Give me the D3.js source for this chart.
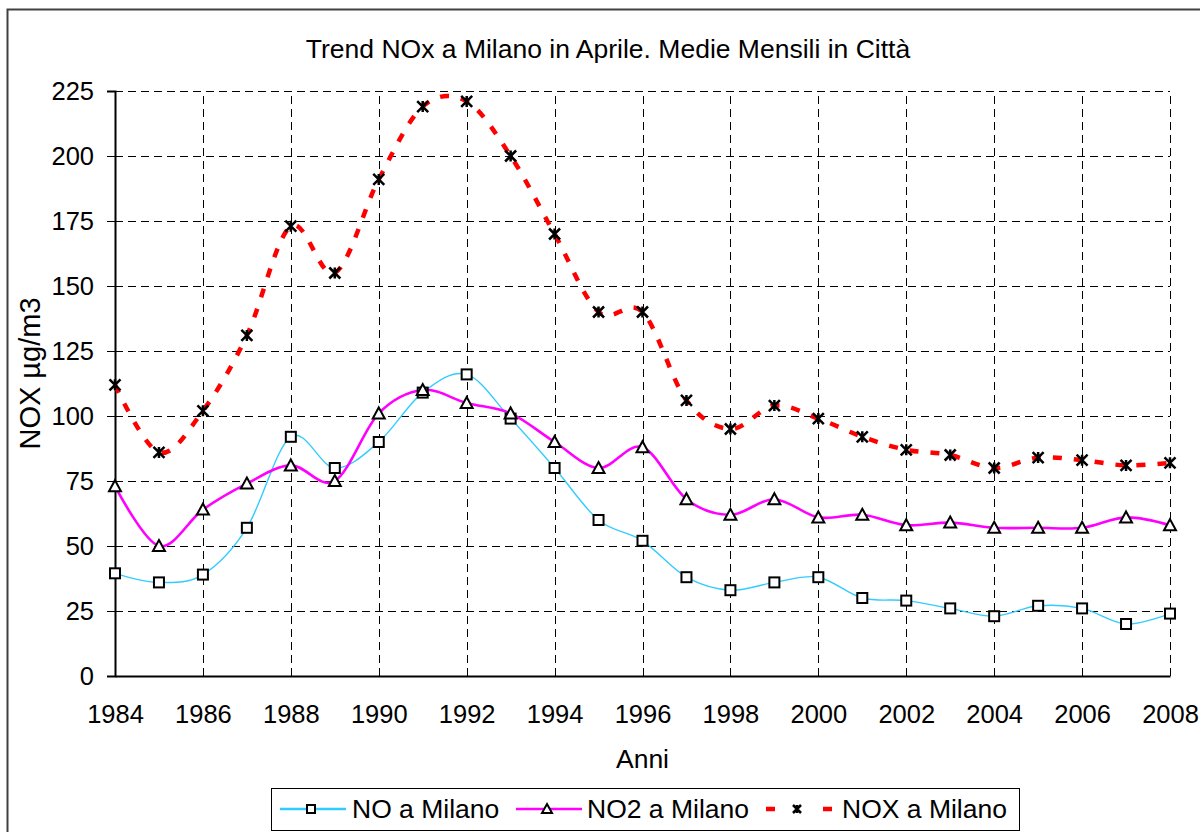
<!DOCTYPE html>
<html lang="it">
<head>
  <meta charset="UTF-8">
  <title>Trend NOx a Milano</title>
  <script src="https://d3js.org/d3.v7.min.js"></script>
  <style>
    body { margin:0; background:#fff; overflow:hidden; }
    svg { display:block; }
    text { font-family: "Liberation Sans", Arial, sans-serif; fill:#000; }
  </style>
</head>
<body>
  <script>
    // data
    const years = d3.range(1984, 2009);
    const noValues = [39.5,36,39,57,92,80,90,109,116,99,80,60,52,38,33,36,38,30,29,26,23,27,26,20,24];
    const no2Values = [73,50,64,74,81,75,101,110,105,101,90,80,88,68,62,68,61,62,58,59,57,57,57,61,58];
    const noxValues = [112,86,102,131,173,155,191,219,221,200,170,140,140,106,95,104,99,92,87,85,80,84,83,81,82];
    const yTicks = [0,25,50,75,100,125,150,175,200,225];
    const xTicks = d3.range(1984, 2009, 2);

    const width = 1200, height = 832;
    const margin = {left:115, right:30, top:91, bottom:156};

    const svg = d3.select("body").append("svg")
      .attr("width", width).attr("height", height);

    // outer frame
    svg.append("rect")
      .attr("x", 7.5).attr("y", 9.5).attr("width", 1200).attr("height", 830)
      .attr("fill", "none").attr("stroke", "#404040").attr("stroke-width", 2);

    const x = d3.scaleLinear().domain([1984, 2008]).range([margin.left, width - margin.right]);
    const y = d3.scaleLinear().domain([0, 225]).range([height - margin.bottom, margin.top]);

    const plotW = x(2008) - x(1984), plotH = y(0) - y(225);

    svg.append("defs").append("clipPath").attr("id", "clip")
      .append("rect").attr("x", x(1984) - 10).attr("y", y(225) - 2)
      .attr("width", plotW + 20).attr("height", plotH + 4);

    // grid
    const grid = svg.append("g").attr("stroke", "#000").attr("stroke-width", 1)
      .attr("stroke-dasharray", "8,5").attr("shape-rendering", "crispEdges");
    grid.selectAll(".hg").data(yTicks.slice(1)).enter().append("line")
      .attr("x1", x(1984)).attr("x2", x(2008))
      .attr("y1", d => Math.round(y(d)) + 0.5).attr("y2", d => Math.round(y(d)) + 0.5);
    grid.selectAll(".vg").data(xTicks.slice(1)).enter().append("line")
      .attr("y1", y(0)).attr("y2", y(225))
      .attr("x1", d => Math.round(x(d)) + 0.5).attr("x2", d => Math.round(x(d)) + 0.5);

    // axes
    const yAxis = d3.axisLeft(y).tickValues(yTicks).tickSize(8).tickPadding(13);
    svg.append("g").attr("transform", `translate(${x(1984)},0)`).call(yAxis)
      .call(g => g.selectAll("text").style("font-size", "25.5px").attr("font-family", "Liberation Sans, Arial"))
      .call(g => g.select(".domain").attr("stroke-width", 2));
    const xAxis = d3.axisBottom(x).tickValues(xTicks).tickFormat(d3.format("d")).tickSize(0).tickPadding(29);
    svg.append("g").attr("transform", `translate(0,${y(0)})`).call(xAxis)
      .call(g => g.selectAll("text").style("font-size", "25.5px").attr("font-family", "Liberation Sans, Arial"))
      .call(g => g.select(".domain").attr("stroke-width", 2));

    // titles
    svg.append("text").attr("x", 608).attr("y", 58).attr("text-anchor", "middle")
      .style("font-size", "26.5px").text("Trend NOx a Milano in Aprile. Medie Mensili in Città");
    svg.append("text").attr("x", (x(1984) + x(2008)) / 2).attr("y", 768).attr("text-anchor", "middle")
      .style("font-size", "26.5px").text("Anni");
    svg.append("text").attr("transform", `translate(40,${(y(0) + y(225)) / 2 - 10}) rotate(-90)`)
      .attr("text-anchor", "middle").style("font-size", "29px").text("NOX µg/m3");

    const series = [
      {name:"NO a Milano", values:noValues, color:"#33ccff", width:1.4, dash:null, marker:"square"},
      {name:"NO2 a Milano", values:no2Values, color:"#ff00ff", width:2.6, dash:null, marker:"triangle"},
      {name:"NOX a Milano", values:noxValues, color:"#ff0000", width:4.5, dash:"9,12", marker:"star"}
    ];

    const line = d3.line().curve(d3.curveCatmullRom.alpha(0))
      .x((d, i) => x(years[i])).y(d => y(d));

    function drawMarker(g, type, size) {
      if (type === "square") {
        g.append("rect").attr("x", -size).attr("y", -size).attr("width", size * 2).attr("height", size * 2)
          .attr("fill", "#fff").attr("stroke", "#000").attr("stroke-width", 2);
      } else if (type === "triangle") {
        g.append("path").attr("d", `M0,${-size - 1}L${size + 1},${size}L${-size - 1},${size}Z`)
          .attr("fill", "#fff").attr("stroke", "#000").attr("stroke-width", 2);
      } else {
        const s = size;
        g.append("path").attr("d", `M${-s},${-s}L${s},${s}M${-s},${s}L${s},${-s}M0,${-s}L0,${s}`)
          .attr("stroke", "#000").attr("stroke-width", 2.5);
      }
    }

    const plot = svg.append("g").attr("clip-path", "url(#clip)");
    series.forEach(s => {
      plot.append("path").datum(s.values).attr("d", line)
        .attr("fill", "none").attr("stroke", s.color).attr("stroke-width", s.width)
        .attr("stroke-dasharray", s.dash);
    });
    series.forEach(s => {
      plot.selectAll(null).data(s.values).enter().append("g")
        .attr("transform", (d, i) => `translate(${x(years[i])},${y(d)})`)
        .each(function() { drawMarker(d3.select(this), s.marker, s.marker === "star" ? 5.5 : 5); });
    });

    // legend
    const lg = svg.append("g");
    lg.append("rect").attr("x", 271.5).attr("y", 788.5).attr("width", 748).attr("height", 42)
      .attr("fill", "#fff").attr("stroke", "#000").attr("stroke-width", 1);
    const legendX = [280, 516, 766];
    const textX = [352, 587, 842];
    series.forEach((s, i) => {
      const g = lg.append("g");
      g.append("line").attr("x1", legendX[i]).attr("x2", legendX[i] + 66)
        .attr("y1", 809).attr("y2", 809).attr("stroke", s.color)
        .attr("stroke-width", s.marker === "square" ? 2.5 : s.width)
        .attr("stroke-dasharray", s.dash ? "9,48" : null);
      const m = g.append("g").attr("transform", `translate(${legendX[i] + 31},809)`);
      drawMarker(m, s.marker, 4);
      g.append("text").attr("x", textX[i]).attr("y", 818).style("font-size", "26.5px").text(s.name);
    });
  </script>
</body>
</html>
